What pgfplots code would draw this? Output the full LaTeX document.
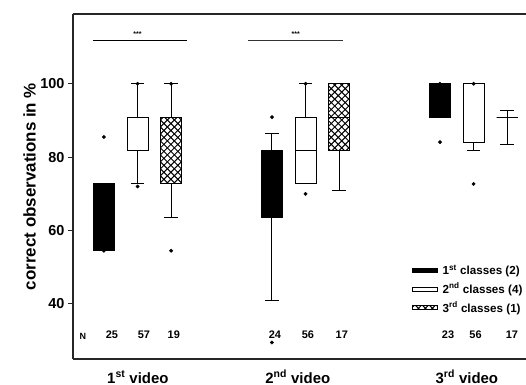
\documentclass[border=0pt]{standalone}
\usepackage{fontspec}
\setmainfont{Liberation Sans}
\usepackage{pgfplots}
\pgfplotsset{compat=1.18}
\usepgfplotslibrary{statistics}
\usetikzlibrary{patterns}
\pgfdeclarepatternformonly{diagcross}{\pgfqpoint{-1pt}{-1pt}}{\pgfqpoint{8pt}{8pt}}{\pgfqpoint{7pt}{7pt}}{%
 \pgfsetlinewidth{1pt}%
 \pgfpathmoveto{\pgfqpoint{0pt}{0pt}}\pgfpathlineto{\pgfqpoint{7pt}{7pt}}%
 \pgfpathmoveto{\pgfqpoint{0pt}{7pt}}\pgfpathlineto{\pgfqpoint{7pt}{0pt}}%
 \pgfusepath{stroke}}
\begin{document}
\begin{tikzpicture}
\begin{axis}[
 scale only axis, width=453bp, height=345bp,
 xmin=-0.92, xmax=12.56, ymin=25, ymax=119,
 axis x line*=bottom, axis y line*=left,
 axis line style={-, line width=1.1bp, black!85},
 ytick={40,60,80,100}, tick align=outside, major tick length=5bp,
 tick style={line width=0.9bp, black!85},
 xtick={1.01,5.77,10.8},
 xticklabels={1\textsuperscript{st} video, 2\textsuperscript{nd} video, 3\textsuperscript{rd} video},
 xtick style={draw=none},
 /pgf/number format/assume math mode=true,
 yticklabel style={font=\bfseries\fontsize{14.5}{16}\selectfont},
 xticklabel style={font=\bfseries\fontsize{15}{17}\selectfont, anchor=base, yshift=-19bp},
 ylabel={correct observations in \%},
 ylabel style={font=\bfseries\fontsize{17}{19}\selectfont, at={(axis description cs:-0.0817,0.5)}, anchor=south, inner sep=0pt},
 clip=false,
 legend style={at={(axis description cs:0.748,0.279)}, anchor=north west, draw=none, fill=none,
   font=\bfseries\fontsize{11.7}{14}\selectfont, row sep=3bp, inner sep=0pt},
 legend cell align=left,
 boxplot/draw direction=y,
 boxplot/box extend=0.625,
 boxplot/whisker extend=0.4,
]
\addlegendimage{legend image code/.code={\draw[line width=0.8bp, fill=black] (0bp,-2bp) rectangle (25bp,2bp); \path (28bp,0bp);}}
\addlegendentry{1\textsuperscript{st} classes (2)}
\addlegendimage{legend image code/.code={\draw[line width=0.8bp, fill=white] (0bp,-2bp) rectangle (25bp,2bp); \path (28bp,0bp);}}
\addlegendentry{2\textsuperscript{nd} classes (4)}
\addlegendimage{legend image code/.code={\draw[line width=0.8bp, pattern=diagcross] (0bp,-2bp) rectangle (25bp,2bp); \path (28bp,0bp);}}
\addlegendentry{3\textsuperscript{rd} classes (1)}

% 1st video
\addplot[forget plot, line width=0.9bp, draw=black, fill=black, boxplot prepared={draw position=0, lower whisker=54.5, lower quartile=54.5, median=63.6, upper quartile=72.7, upper whisker=72.7}] coordinates {};
\addplot[forget plot, line width=0.9bp, draw=black, fill=white, boxplot prepared={draw position=1, lower whisker=72.7, lower quartile=81.8, median=81.8, upper quartile=90.9, upper whisker=100}] coordinates {};
\addplot[forget plot, line width=0.9bp, draw=black, pattern=diagcross, boxplot prepared={draw position=2, lower whisker=63.6, lower quartile=72.7, median=90.9, upper quartile=90.9, upper whisker=100}] coordinates {};
% 2nd video
\addplot[forget plot, line width=0.9bp, draw=black, fill=black, boxplot prepared={draw position=5, lower whisker=40.9, lower quartile=63.6, median=72.7, upper quartile=81.8, upper whisker=86.4}] coordinates {};
\addplot[forget plot, line width=0.9bp, draw=black, fill=white, boxplot prepared={draw position=6, lower whisker=72.7, lower quartile=72.7, median=81.8, upper quartile=90.9, upper whisker=100}] coordinates {};
\addplot[forget plot, line width=0.9bp, draw=black, pattern=diagcross, boxplot prepared={draw position=7, lower whisker=70.9, lower quartile=81.8, median=90.9, upper quartile=100, upper whisker=100}] coordinates {};
% 3rd video
\addplot[forget plot, line width=0.9bp, draw=black, fill=black, boxplot prepared={draw position=10, lower whisker=90.9, lower quartile=90.9, median=95.5, upper quartile=100, upper whisker=100}] coordinates {};
\addplot[forget plot, line width=0.9bp, draw=black, fill=white, boxplot prepared={draw position=11, lower whisker=81.8, lower quartile=84.1, median=100, upper quartile=100, upper whisker=100}] coordinates {};
\addplot[forget plot, line width=0.9bp, draw=black, fill=white, boxplot prepared={draw position=12, lower whisker=83.5, lower quartile=90.9, median=90.9, upper quartile=90.9, upper whisker=92.7}] coordinates {};

% outliers / extremes
\addplot[forget plot, only marks, mark=*, mark size=1.7bp, black] coordinates {
 (0,85.5) (0,54.5) (1,100) (1,72) (2,100) (2,54.5)
 (5,90.9) (5,29.5) (6,100) (6,70)
 (10,100) (10,84.1) (11,100) (11,72.7)};

% significance bars
\addplot[forget plot, black, line width=0.9bp] coordinates {(-0.33,111.8) (2.47,111.8)};
\addplot[forget plot, black!80, line width=0.9bp] coordinates {(4.29,111.8) (7.11,111.8)};
\node[font=\bfseries\fontsize{7}{8}\selectfont, anchor=base] at (axis cs:1,112.9) {***};
\node[font=\bfseries\fontsize{7}{8}\selectfont, anchor=base] at (axis cs:5.71,112.9) {***};

% N labels
\node[font=\bfseries\fontsize{9}{10}\selectfont, anchor=base] at (axis cs:-0.625,30.4) {N};
\node[font=\bfseries\fontsize{11}{12}\selectfont, anchor=base] at (axis cs:0.24,30.7) {25};
\node[font=\bfseries\fontsize{11}{12}\selectfont, anchor=base] at (axis cs:1.19,30.7) {57};
\node[font=\bfseries\fontsize{11}{12}\selectfont, anchor=base] at (axis cs:2.08,30.7) {19};
\node[font=\bfseries\fontsize{11}{12}\selectfont, anchor=base] at (axis cs:5.09,30.7) {24};
\node[font=\bfseries\fontsize{11}{12}\selectfont, anchor=base] at (axis cs:6.07,30.7) {56};
\node[font=\bfseries\fontsize{11}{12}\selectfont, anchor=base] at (axis cs:7.08,30.7) {17};
\node[font=\bfseries\fontsize{11}{12}\selectfont, anchor=base] at (axis cs:10.24,30.7) {23};
\node[font=\bfseries\fontsize{11}{12}\selectfont, anchor=base] at (axis cs:11.06,30.7) {56};
\node[font=\bfseries\fontsize{11}{12}\selectfont, anchor=base] at (axis cs:12.14,30.7) {17};

\draw[line width=1.1bp, black!85] (rel axis cs:0,1) -- (rel axis cs:1,1);
\coordinate (BL) at (rel axis cs:0,0);
\coordinate (TR) at (rel axis cs:1,1);
\end{axis}
\pgfresetboundingbox
\useasboundingbox ([shift={(-73bp,-26bp)}]BL) rectangle ([shift={(0bp,14bp)}]TR);
\end{tikzpicture}
\end{document}
